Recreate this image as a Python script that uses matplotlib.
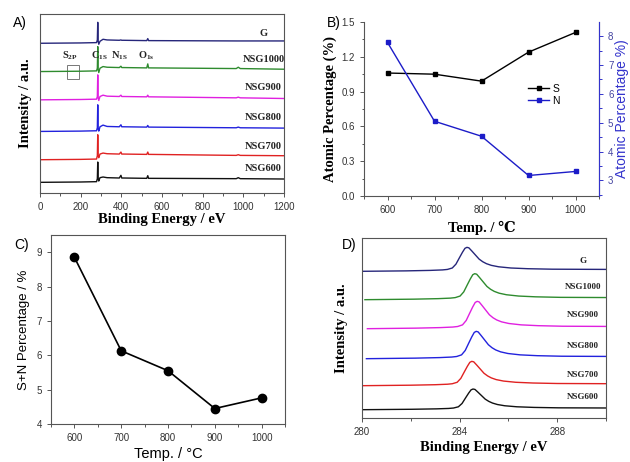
import matplotlib
matplotlib.use('Agg')
import matplotlib.pyplot as plt
from matplotlib.patches import Rectangle
from matplotlib.ticker import MultipleLocator

# ==========================================
# 1. DATA
# ==========================================
series_names = ['G', 'NSG1000', 'NSG900', 'NSG800', 'NSG700', 'NSG600']
series_colors = ['#26267a', '#2e8b2e', '#e020e0', '#2222dd', '#e02222', '#111111']

# A) survey spectra (stacked, arbitrary units)
survey_energy = [0, 200, 278, 282, 284, 286, 289, 295, 310, 330, 390, 398, 402, 410,
                 525, 530, 534, 540, 965, 975, 985, 1200]
survey_G = [45.0, 45.1, 45.2, 46.0, 51.3, 45.8, 44.7, 45.6, 46.2, 46.0, 45.9, 46.0, 45.9, 45.9,
            45.8, 46.4, 45.8, 45.8, 45.7, 45.7, 45.7, 45.7]
survey_1000 = [36.5, 36.6, 36.7, 37.5, 44.0, 37.2, 36.2, 37.5, 38.0, 37.8, 37.7, 38.1, 37.7, 37.7,
               37.6, 38.8, 37.6, 37.6, 37.4, 37.8, 37.4, 37.2]
survey_900 = [28.0, 28.1, 28.2, 29.0, 35.5, 28.7, 27.8, 29.0, 29.4, 29.1, 29.0, 29.4, 29.0, 29.0,
              28.9, 29.4, 28.9, 28.9, 28.6, 28.8, 28.6, 28.4]
survey_800 = [18.5, 18.6, 18.7, 19.6, 26.5, 19.4, 18.6, 19.9, 20.4, 20.0, 19.9, 20.5, 19.9, 19.9,
              19.8, 20.3, 19.8, 19.8, 19.6, 19.8, 19.6, 19.5]
survey_700 = [10.0, 10.1, 10.2, 11.2, 17.5, 11.2, 10.6, 11.7, 12.0, 11.8, 11.7, 12.3, 11.7, 11.7,
              11.6, 12.3, 11.6, 11.6, 11.3, 11.5, 11.3, 11.2]
survey_600 = [3.2, 3.3, 3.4, 4.3, 9.3, 4.2, 3.6, 4.6, 4.8, 4.6, 4.5, 5.3, 4.5, 4.5,
              4.4, 5.2, 4.4, 4.4, 4.3, 4.6, 4.3, 4.2]
survey_label_y = [48.0, 40.0, 31.8, 22.8, 14.0, 7.3]

# B) atomic percentages
temps = [600, 700, 800, 900, 1000]
s_pct = [1.06, 1.05, 0.99, 1.24, 1.41]
n_pct = [7.78, 5.05, 4.53, 3.17, 3.31]

# C) S+N total
sn_pct = [8.85, 6.13, 5.55, 4.45, 4.76]

# D) C1s high resolution: peak profile (relative energy, fraction of height)
c1s_rel = [-4.5, -2.5, -1.5, -1.0, -0.8, -0.6, -0.45, -0.3, -0.18, -0.08, 0.0, 0.08, 0.2,
           0.35, 0.5, 0.65, 0.8, 1.0, 1.3, 1.8, 2.5, 3.5, 6.0]
c1s_shape = [0.0, 0.02, 0.04, 0.06, 0.08, 0.14, 0.30, 0.58, 0.80, 0.96, 1.0, 0.98, 0.85,
             0.68, 0.51, 0.40, 0.32, 0.25, 0.19, 0.14, 0.11, 0.09, 0.08]
c1s_center = [284.30, 284.62, 284.72, 284.68, 284.50, 284.55]
c1s_base = [44.0, 35.5, 26.8, 17.8, 9.7, 2.5]
c1s_height = [7.2, 7.8, 8.2, 8.2, 7.3, 6.2]
c1s_label_y = [47.2, 39.2, 30.8, 21.5, 13.0, 6.2]

SERIF = 'Liberation Serif'
SANS = 'Liberation Sans'
SPINE = '#555555'

plt.rcParams['font.family'] = SANS
plt.rcParams['xtick.labelsize'] = 7
plt.rcParams['ytick.labelsize'] = 7
plt.rcParams['xtick.major.size'] = 3
plt.rcParams['ytick.major.size'] = 3
plt.rcParams['xtick.minor.size'] = 1.8
plt.rcParams['ytick.minor.size'] = 1.8
plt.rcParams['axes.linewidth'] = 0.8

fig = plt.figure(figsize=(6.3, 4.62), dpi=100)


def style(ax):
    for sp in ax.spines.values():
        sp.set_color(SPINE)
    ax.tick_params(colors=SPINE, labelcolor='#333333', width=0.7, which='both')


# ==========================================
# A) survey
# ==========================================
axA = fig.add_axes([0.0635, 0.5823, 0.3873, 0.3874])
style(axA)
surveys = [survey_G, survey_1000, survey_900, survey_800, survey_700, survey_600]
for name, col, ys, ly in zip(series_names, series_colors, surveys, survey_label_y):
    axA.plot(survey_energy, ys, color=col, lw=1.0)
    axA.text(1100, ly, name, ha='center', va='center', fontsize=7.5,
             fontweight='bold', family=SERIF, color='#222222')
axA.set_xlim(0, 1200)
axA.set_ylim(0, 53.8)
axA.xaxis.set_major_locator(MultipleLocator(200))
axA.xaxis.set_minor_locator(MultipleLocator(100))
axA.set_yticks([])
peak_tags = [(149, r'S$_{\mathregular{2P}}$'), (290, r'C$_{\mathregular{1S}}$'),
             (392, r'N$_{\mathregular{1S}}$'), (524, r'O$_{\mathregular{1s}}$')]
for px, lab in peak_tags:
    axA.text(px, 41.3, lab, ha='center', va='center', fontsize=7.5, fontweight='bold',
             family=SERIF, color='#222222')
axA.add_patch(Rectangle((133, 34.4), 59, 4.0, fill=False, ec='#777777', lw=0.7))
axA.set_xlabel('Binding Energy / eV', family=SERIF, fontweight='bold', fontsize=10.5, labelpad=1)
axA.set_ylabel('Intensity / a.u.', family=SERIF, fontweight='bold', fontsize=10.5, labelpad=6)
fig.text(0.020, 0.950, 'A)', fontsize=10, ha='left', va='center')

# ==========================================
# B) atomic percentages
# ==========================================
axB = fig.add_axes([0.5778, 0.5758, 0.373, 0.3766])
style(axB)
axB.spines['top'].set_visible(False)
lS, = axB.plot(temps, s_pct, color='black', lw=1.0, marker='s', ms=3, label='S')
axB.set_xlim(550, 1050)
axB.set_ylim(0, 1.5)
axB.xaxis.set_major_locator(MultipleLocator(100))
axB.xaxis.set_minor_locator(MultipleLocator(50))
axB.yaxis.set_major_locator(MultipleLocator(0.3))
axB.yaxis.set_minor_locator(MultipleLocator(0.15))
axB.yaxis.set_major_formatter(plt.FormatStrFormatter('%.1f'))
axB.set_xlabel('Temp. / ℃', family=[SERIF, 'DejaVu Serif'], fontweight='bold', fontsize=10.5, labelpad=4)
axB.set_ylabel('Atomic Percentage (%)', family=SERIF, fontweight='bold', fontsize=10.5, labelpad=3)

axB2 = axB.twinx()
axB2.spines['top'].set_visible(False)
for sp in ['left', 'bottom']:
    axB2.spines[sp].set_visible(False)
axB2.spines['right'].set_color('#3333cc')
lN, = axB2.plot(temps, n_pct, color='#1c1cc8', lw=1.0, marker='s', ms=3, label='N')
axB2.set_ylim(2.46, 8.49)
axB2.yaxis.set_major_locator(MultipleLocator(1))
axB2.yaxis.set_minor_locator(MultipleLocator(0.5))
axB2.tick_params(axis='y', colors='#3333cc', labelcolor='#4444a0', width=0.7, which='both')
axB2.set_ylabel('Atomic Percentage %)', color='#3333cc', fontsize=10, labelpad=1)
axB.legend(handles=[lS, lN], loc='upper left', bbox_to_anchor=(0.66, 0.70), frameon=False,
           fontsize=7.5, handlelength=2.0, handletextpad=0.3, labelspacing=0.2)
fig.text(0.519, 0.950, 'B)', fontsize=10, ha='left', va='center')

# ==========================================
# C) S+N
# ==========================================
axC = fig.add_axes([0.081, 0.0823, 0.3714, 0.409])
style(axC)
axC.plot(temps, sn_pct, color='black', lw=1.2, marker='o', ms=6)
axC.set_xlim(550, 1050)
axC.set_ylim(4, 9.5)
axC.xaxis.set_major_locator(MultipleLocator(100))
axC.xaxis.set_minor_locator(MultipleLocator(50))
axC.yaxis.set_major_locator(MultipleLocator(1))
axC.set_xlabel('Temp. / °C', fontsize=10.5, labelpad=3)
axC.set_ylabel('S+N Percentage / %', fontsize=9.5, labelpad=5)
fig.text(0.022, 0.470, 'C)', fontsize=10, ha='left', va='center')

# ==========================================
# D) C1s
# ==========================================
axD = fig.add_axes([0.5746, 0.0952, 0.3873, 0.3896])
style(axD)
for i, (name, col) in enumerate(zip(series_names, series_colors)):
    xs = [c1s_center[i] + r for r in c1s_rel]
    ys = [c1s_base[i] + c1s_height[i] * f for f in c1s_shape]
    axD.plot(xs, ys, color=col, lw=1.0)
    axD.text(289.05, c1s_label_y[i], name, ha='center', va='center', fontsize=6.5,
             fontweight='bold', family=SERIF, color='#222222')
axD.set_xlim(280, 290)
axD.set_ylim(0, 54)
axD.set_xticks([280, 284, 288])
axD.xaxis.set_minor_locator(MultipleLocator(2))
axD.set_yticks([])
axD.set_xlabel('Binding Energy / eV', family=SERIF, fontweight='bold', fontsize=10.5, labelpad=3)
axD.set_ylabel('Intensity / a.u.', family=SERIF, fontweight='bold', fontsize=10.5, labelpad=10)
fig.text(0.543, 0.470, 'D)', fontsize=10, ha='left', va='center')

fig.savefig('out.png', dpi=100)
